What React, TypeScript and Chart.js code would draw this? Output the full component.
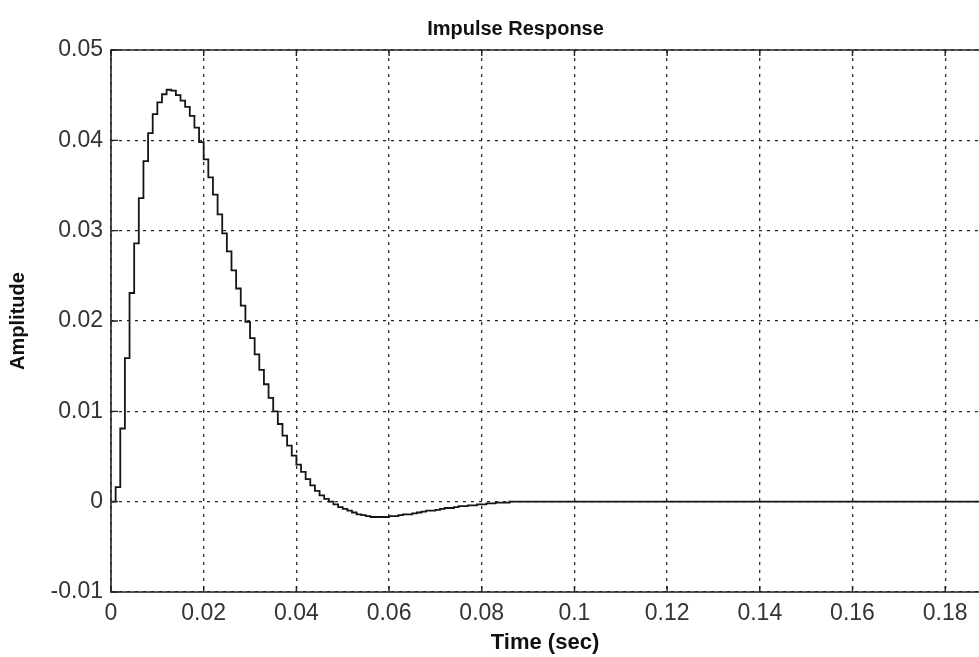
import React, { useEffect, useRef } from "react";
import { Chart, registerables } from "chart.js";

Chart.register(...registerables);

// ---- data ----
const SAMPLE_TIME = 0.001; // seconds between samples (zero-order-hold steps)
const amplitude: number[] = [
  0, 0.0016, 0.0081, 0.0159, 0.0231, 0.0286, 0.0336, 0.0377, 0.0408, 0.0429,
  0.0442, 0.0451, 0.0456, 0.0455, 0.045, 0.0444, 0.0437, 0.0427, 0.0414, 0.0398,
  0.0379, 0.0359, 0.034, 0.0318, 0.0297, 0.0277, 0.0256, 0.0236, 0.0217, 0.0199,
  0.0181, 0.0163, 0.0146, 0.013, 0.0115, 0.01, 0.0086, 0.0073, 0.0062, 0.0051,
  0.0041, 0.0033, 0.0025, 0.0018, 0.0012, 0.0007, 0.0003, 0.0, -0.0003, -0.0006,
  -0.0008, -0.001, -0.0012, -0.0014, -0.0015, -0.0016, -0.0017, -0.0017, -0.0017, -0.0017,
  -0.0016, -0.0016, -0.0015, -0.0014, -0.0014, -0.0013, -0.0012, -0.0011, -0.001, -0.001,
  -0.0009, -0.0008, -0.0007, -0.0007, -0.0006, -0.0005, -0.0005, -0.0004, -0.0004, -0.0003,
  -0.0003, -0.0002, -0.0002, -0.0001, -0.0001, -0.0001, 0, 0, 0, 0,
  0, 0, 0, 0, 0, 0, 0, 0, 0, 0,
  0, 0, 0, 0, 0, 0, 0, 0, 0, 0,
  0, 0, 0, 0, 0, 0, 0, 0, 0, 0,
  0, 0, 0, 0, 0, 0, 0, 0, 0, 0,
  0, 0, 0, 0, 0, 0, 0, 0, 0, 0,
  0, 0, 0, 0, 0, 0, 0, 0, 0, 0,
  0, 0, 0, 0, 0, 0, 0, 0, 0, 0,
  0, 0, 0, 0, 0, 0, 0, 0, 0, 0,
  0, 0, 0, 0, 0, 0, 0, 0, 0, 0,
  0, 0, 0, 0, 0, 0, 0, 0, 0,
];
const xTickValues = [0, 0.02, 0.04, 0.06, 0.08, 0.1, 0.12, 0.14, 0.16, 0.18];
const yTickValues = [-0.01, 0, 0.01, 0.02, 0.03, 0.04, 0.05];
const X_MIN = 0;
const X_MAX = 0.1873;
const Y_MIN = -0.01;
const Y_MAX = 0.05;

const TITLE = "Impulse Response";
const X_LABEL = "Time (sec)";
const Y_LABEL = "Amplitude";

const FONT = "'Liberation Sans', Arial, Helvetica, sans-serif";

const fmt = (v: number) => String(Number(Number(v).toFixed(4)));

// shifts the title box so that its centre sits where the reference has it
const titleShiftPlugin = {
  id: "titleShift",
  afterLayout(chart: any) {
    const tb = chart.titleBlock;
    if (tb) {
      tb.left += 52;
    }
  },
};

const framePlugin = {
  id: "frame",
  afterDatasetsDraw(chart: any) {
    const { ctx, chartArea, scales } = chart;
    const { left, right, top, bottom } = chartArea;
    ctx.save();
    ctx.setLineDash([]);
    ctx.strokeStyle = "#222";
    ctx.lineWidth = 1.6;
    ctx.beginPath();
    ctx.moveTo(right + 5, top);
    ctx.lineTo(left, top);
    ctx.lineTo(left, bottom);
    ctx.lineTo(right + 5, bottom);
    ctx.stroke();
    ctx.lineWidth = 1.4;
    ctx.beginPath();
    scales.x.ticks.forEach((t: any) => {
      const px = scales.x.getPixelForValue(t.value);
      ctx.moveTo(px, bottom);
      ctx.lineTo(px, bottom - 6);
      ctx.moveTo(px, top);
      ctx.lineTo(px, top + 6);
    });
    scales.y.ticks.forEach((t: any) => {
      const py = scales.y.getPixelForValue(t.value);
      ctx.moveTo(left, py);
      ctx.lineTo(left + 7, py);
    });
    ctx.stroke();
    ctx.restore();
  },
};

export default function App() {
  const canvasRef = useRef<HTMLCanvasElement | null>(null);

  useEffect(() => {
    const canvas = canvasRef.current;
    if (!canvas) return;
    const points = amplitude.map((y, i) => ({ x: i * SAMPLE_TIME, y }));
    const chart = new Chart(canvas, {
      type: "line",
      data: {
        datasets: [
          {
            label: Y_LABEL,
            data: points,
            stepped: true,
            borderColor: "#151515",
            borderWidth: 1.8,
            pointRadius: 0,
            fill: false,
          },
        ],
      },
      options: {
        responsive: false,
        animation: false,
        layout: { padding: 0 },
        plugins: {
          legend: { display: false },
          tooltip: { enabled: false },
          title: {
            display: true,
            text: TITLE,
            color: "#111",
            font: { family: FONT, size: 20, weight: "bold" },
            padding: { top: 17, bottom: 9 },
          },
        },
        scales: {
          x: {
            type: "linear",
            min: X_MIN,
            max: X_MAX,
            afterBuildTicks: (s: any) => {
              s.ticks = xTickValues.map((v) => ({ value: v }));
            },
            afterFit: (s: any) => {
              s.height = 65;
            },
            ticks: {
              color: "#333",
              font: { family: FONT, size: 23 },
              padding: 8,
              maxRotation: 0,
              autoSkip: false,
              callback: (v: any) => fmt(v),
            },
            grid: { color: "#2a2a2a", lineWidth: 1.3, drawTicks: false },
            border: { display: false, dash: [3, 5] },
            title: {
              display: true,
              text: X_LABEL,
              color: "#111",
              font: { family: FONT, size: 22, weight: "bold" },
              padding: { top: 0, bottom: 1 },
            },
          },
          y: {
            type: "linear",
            min: Y_MIN,
            max: Y_MAX,
            afterBuildTicks: (s: any) => {
              s.ticks = yTickValues.map((v) => ({ value: v }));
            },
            afterFit: (s: any) => {
              s.width = 111;
            },
            ticks: {
              color: "#333",
              font: { family: FONT, size: 23 },
              padding: 8,
              autoSkip: false,
              callback: (v: any) => fmt(v),
            },
            grid: { color: "#2a2a2a", lineWidth: 1.3, drawTicks: false },
            border: { display: false, dash: [3, 5] },
            title: {
              display: true,
              text: Y_LABEL,
              color: "#111",
              font: { family: FONT, size: 20, weight: "bold" },
              padding: { top: 6, bottom: 0 },
            },
          },
        },
      },
      plugins: [titleShiftPlugin, framePlugin],
    });
    return () => chart.destroy();
  }, []);

  return (
    <div
      style={{
        position: "absolute",
        left: 0,
        top: 0,
        width: 979,
        height: 657,
        background: "#fff",
        overflow: "hidden",
      }}
    >
      <canvas ref={canvasRef} width={979} height={657} />
    </div>
  );
}
